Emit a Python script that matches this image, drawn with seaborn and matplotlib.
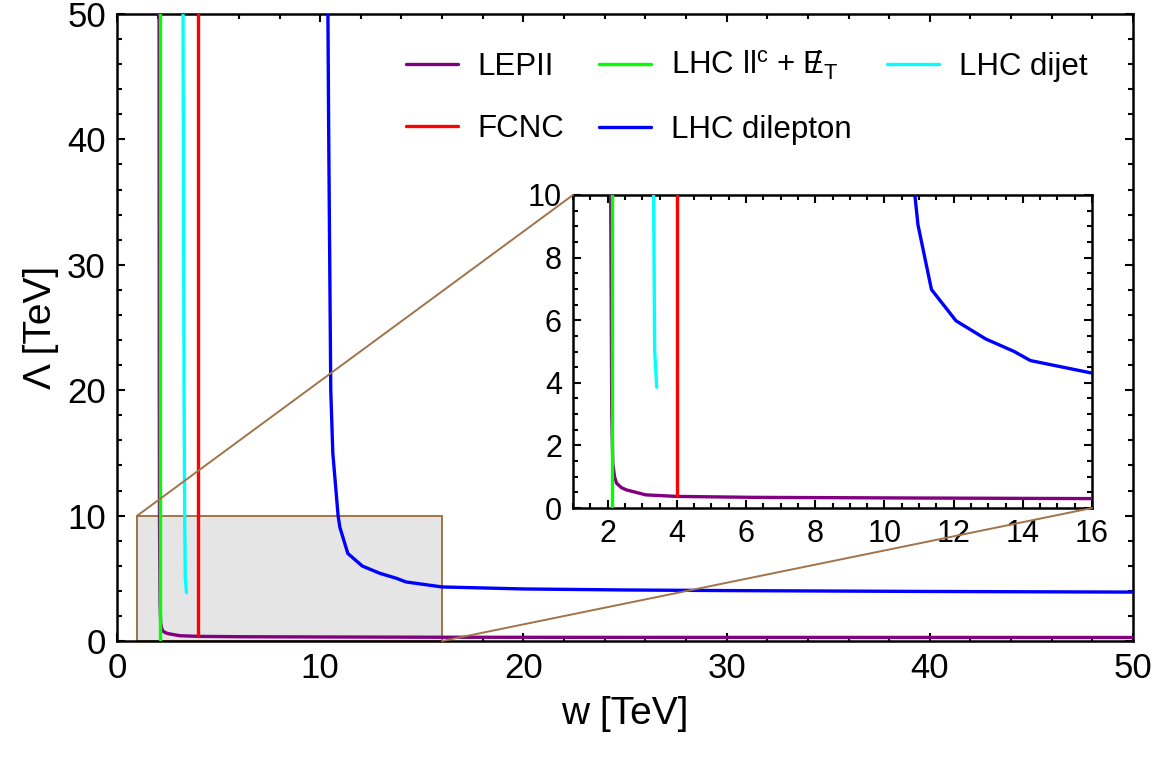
import numpy as np
import pandas as pd
import seaborn as sns
import matplotlib.pyplot as plt
from matplotlib.patches import Rectangle, ConnectionPatch
from matplotlib.ticker import MultipleLocator

# curves (w in TeV, Lambda in TeV)
lep_w = [2.07, 2.08, 2.09, 2.12, 2.15, 2.2, 2.26, 2.4, 2.54, 3.1, 4.0, 6.25, 10.7, 16.0, 25.0, 50.0]
lep_lam = [50.0, 20.0, 10.0, 3.0, 1.43, 1.0, 0.79, 0.65, 0.58, 0.42, 0.37, 0.34, 0.32, 0.30, 0.29, 0.28]

fcnc_w = [4.0, 4.0]
fcnc_lam = [0.37, 50.0]

llc_w = [2.13, 2.13]
llc_lam = [0.0, 50.0]

dilep_w = [10.38, 10.42, 10.47, 10.52, 10.62, 10.88, 10.97, 11.36, 12.07, 12.93, 13.75, 14.22, 16.0, 20.0, 25.0, 30.0, 40.0, 50.0]
dilep_lam = [50.0, 40.0, 30.0, 20.0, 15.0, 10.0, 9.05, 6.98, 5.98, 5.40, 5.0, 4.71, 4.31, 4.15, 4.07, 4.02, 3.95, 3.9]

dijet_w = [3.25, 3.3, 3.33, 3.36, 3.42]
dijet_lam = [50.0, 20.0, 10.0, 5.03, 3.86]

curves = [
    ("LEPII", lep_w, lep_lam, "#800080"),
    ("FCNC", fcnc_w, fcnc_lam, "#ff0000"),
    (r"LHC ll$^{\mathregular{c}}$ + $\;\mathregular{/\!\!\!\!E}_\mathregular{T}$", llc_w, llc_lam, "#00ff00"),
    ("LHC dilepton", dilep_w, dilep_lam, "#0000ff"),
    ("LHC dijet", dijet_w, dijet_lam, "#00ffff"),
]

sns.set_style("ticks")
plt.rcParams['font.family'] = ['Liberation Sans', 'DejaVu Sans']
plt.rcParams['mathtext.fontset'] = 'custom'
plt.rcParams['mathtext.rm'] = 'Liberation Sans'
plt.rcParams['mathtext.it'] = 'Liberation Sans'
for k in ['text.color', 'axes.labelcolor', 'xtick.color', 'ytick.color']:
    plt.rcParams[k] = 'black'

brown = "#a0744a"

fig = plt.figure(figsize=(11.63, 7.61), dpi=100)
ax = fig.add_axes([117/1163, 1-641/761, (1133-117)/1163, (641-14)/761])
axin = fig.add_axes([573/1163, 1-508/761, (1092-573)/1163, (508-195)/761])


def style_axes(a, fs, maj, mnr):
    for s in a.spines.values():
        s.set_linewidth(1.8)
        s.set_color("black")
    a.tick_params(which="both", direction="in", top=True, right=True,
                  width=1.5, color="black", labelcolor="black", labelsize=fs, pad=8)
    a.tick_params(which="major", length=6)
    a.tick_params(which="minor", length=3.5)
    a.xaxis.set_major_locator(MultipleLocator(maj[0]))
    a.yaxis.set_major_locator(MultipleLocator(maj[1]))
    a.xaxis.set_minor_locator(MultipleLocator(mnr[0]))
    a.yaxis.set_minor_locator(MultipleLocator(mnr[1]))


# zoom box on the main plot
ax.add_patch(Rectangle((1, 0), 15, 10, facecolor="#e5e5e5", edgecolor=brown, lw=1.4, zorder=1))

for a in (ax, axin):
    for name, w, lam, col in curves:
        df = pd.DataFrame({"w": w, "lam": lam})
        sns.lineplot(data=df, x="w", y="lam", ax=a, sort=False, estimator=None,
                     color=col, lw=2.4, label=name if a is ax else None, zorder=3)

ax.set_xlim(0, 50)
ax.set_ylim(0, 50)
style_axes(ax, 25, (10, 10), (2, 2))
ax.set_xlabel("w [TeV]", fontsize=28, labelpad=8)
ax.set_ylabel("Λ [TeV]", fontsize=28, labelpad=6)

axin.set_xlim(1, 16)
axin.set_ylim(0, 10)
style_axes(axin, 22, (2, 2), (0.5, 0.5))
axin.set_xlabel("")
axin.set_ylabel("")
if axin.get_legend() is not None:
    axin.get_legend().remove()

# connector lines
for pa, pb in [((1, 10), (0, 1)), ((16, 0), (1, 0))]:
    con = ConnectionPatch(xyA=pa, coordsA="data", axesA=ax,
                          xyB=pb, coordsB="axes fraction", axesB=axin,
                          color=brown, lw=1.4, zorder=2)
    fig.add_artist(con)

ax.legend(loc="upper left", bbox_to_anchor=(390/1163, 1-33/761), bbox_transform=fig.transFigure,
          ncol=3, frameon=False, fontsize=22.5, handlelength=1.66, handletextpad=0.64,
          columnspacing=1.12, labelspacing=1.05, borderpad=0)

fig.savefig("out.png", dpi=100)
